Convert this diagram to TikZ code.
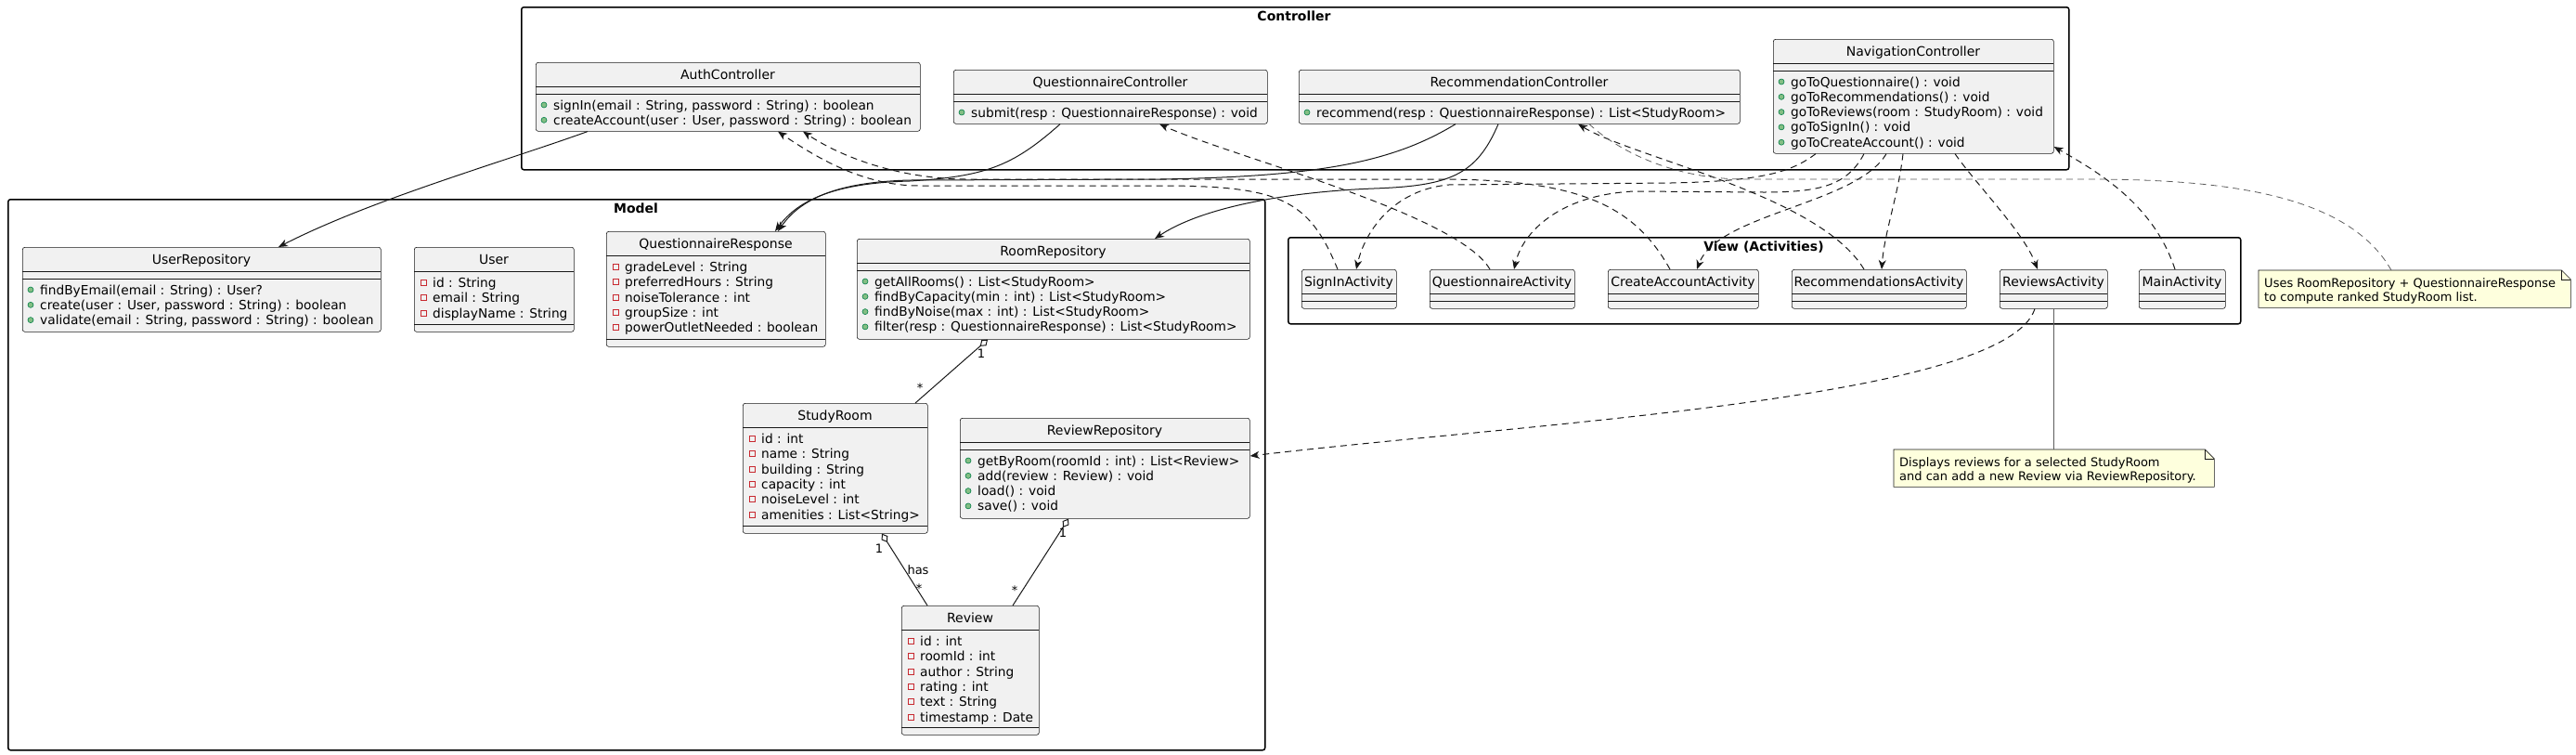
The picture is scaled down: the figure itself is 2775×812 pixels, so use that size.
\documentclass[tikz,border=0pt]{standalone}
\usepackage{fontspec}
\setmainfont{DejaVu Sans}
\usetikzlibrary{arrows.meta}

\definecolor{boxfill}{HTML}{F1F1F1}
\definecolor{boxline}{HTML}{181818}
\definecolor{notefill}{HTML}{FEFFDD}
\definecolor{pubfill}{HTML}{84BE84}
\definecolor{publine}{HTML}{038048}
\definecolor{privline}{HTML}{C82930}

\begin{document}
\begin{tikzpicture}[x=1pt, y=-1pt,
    cls/.style={draw=boxline, fill=boxfill, line width=0.6pt, rounded corners=2.5pt, anchor=north west, inner sep=0pt},
    ttl/.style={anchor=base, inner sep=0pt, font=\fontsize{14}{16}\selectfont},
    mem/.style={anchor=base west, inner sep=0pt, font=\fontsize{13.75}{16}\selectfont},
    sep/.style={draw=boxline, line width=0.6pt},
    pubdot/.style={fill=pubfill, draw=publine, line width=0.6pt},
    privsq/.style={draw=privline, line width=0.8pt},
    pkg/.style={draw=black, line width=1.5pt, rounded corners=2.5pt, anchor=north west, inner sep=0pt},
    pkgname/.style={anchor=base, inner sep=0pt, font=\fontsize{14}{16}\selectfont\bfseries},
    notebox/.style={anchor=north west, inner sep=0pt},
    notefr/.style={draw=boxline, fill=notefill, line width=0.6pt},
    notetxt/.style={anchor=base west, inner sep=0pt, font=\fontsize{13}{15}\selectfont},
    mult/.style={inner sep=0pt, font=\fontsize{13}{15}\selectfont},
    assoc/.style={draw=boxline, line width=1pt, -{Stealth[length=10pt,width=8pt,inset=3pt]}},
    dep/.style={assoc, dash pattern=on 7pt off 5pt},
    aggr/.style={draw=boxline, line width=1pt, -{Diamond[open,length=11pt,width=8pt]}},
    notelink/.style={draw=boxline!70, line width=0.8pt, dash pattern=on 7pt off 5pt}]

    \useasboundingbox (0,0) rectangle (2775,812);

    % Les paquets
    \node[pkg, minimum width=1667pt, minimum height=175pt] (ctrlPkg) at (561,7) {};
    \node[pkgname] (ctrlName) at (1394,22) {Controller};
    \node[pkg, minimum width=1354pt, minimum height=593pt] (modelPkg) at (8,214) {};
    \node[pkgname] (modelName) at (685,229) {Model};
    \node[pkg, minimum width=1026pt, minimum height=93pt] (viewPkg) at (1387,255) {};
    \node[pkgname] (viewName) at (1900,270) {View (Activities)};

    % Les contrôleurs
    \node[cls, minimum width=414pt, minimum height=74pt] (authC) at (577,67) {};
    \node[ttl] (authCT) at (784,85) {AuthController};
    \draw[sep] (577,93) -- (991,93) (577,101) -- (991,101);
    \foreach \m [count=\i from 0] in {{signIn(email : String, password : String) : boolean},
        {createAccount(user : User, password : String) : boolean}}{
      \filldraw[pubdot] (586,113+16.3*\i) circle (3pt);
      \node[mem] (authC-\i) at (596,118+16.3*\i) {\m};}

    \node[cls, minimum width=338pt, minimum height=58pt] (quesC) at (1027,75) {};
    \node[ttl] (quesCT) at (1196,93) {QuestionnaireController};
    \draw[sep] (1027,101) -- (1365,101) (1027,109) -- (1365,109);
    \filldraw[pubdot] (1036,121) circle (3pt);
    \node[mem] (quesC-0) at (1046,126) {submit(resp : QuestionnaireResponse) : void};

    \node[cls, minimum width=475pt, minimum height=58pt] (recC) at (1399,75) {};
    \node[ttl] (recCT) at (1636.5,93) {RecommendationController};
    \draw[sep] (1399,101) -- (1874,101) (1399,109) -- (1874,109);
    \filldraw[pubdot] (1408,121) circle (3pt);
    \node[mem] (recC-0) at (1418,126) {recommend(resp : QuestionnaireResponse) : List<StudyRoom>};

    \node[cls, minimum width=302pt, minimum height=123pt] (navC) at (1910,42) {};
    \node[ttl] (navCT) at (2061,60) {NavigationController};
    \draw[sep] (1910,68) -- (2212,68) (1910,76) -- (2212,76);
    \foreach \m [count=\i from 0] in {{goToQuestionnaire() : void},{goToRecommendations() : void},
        {goToReviews(room : StudyRoom) : void},{goToSignIn() : void},{goToCreateAccount() : void}}{
      \filldraw[pubdot] (1919,88+16.3*\i) circle (3pt);
      \node[mem] (navC-\i) at (1929,93+16.3*\i) {\m};}

    % Le modèle
    \node[cls, minimum width=386pt, minimum height=91pt] (userRepo) at (24,266) {};
    \node[ttl] (userRepoT) at (217,284) {UserRepository};
    \draw[sep] (24,292) -- (410,292) (24,300) -- (410,300);
    \foreach \m [count=\i from 0] in {{findByEmail(email : String) : User?},
        {create(user : User, password : String) : boolean},
        {validate(email : String, password : String) : boolean}}{
      \filldraw[pubdot] (33,312+16.3*\i) circle (3pt);
      \node[mem] (userRepo-\i) at (43,317+16.3*\i) {\m};}

    \node[cls, minimum width=172pt, minimum height=91pt] (user) at (446,266) {};
    \node[ttl] (userT) at (532,284) {User};
    \draw[sep] (446,292) -- (618,292) (446,349) -- (618,349);
    \foreach \m [count=\i from 0] in {{id : String},{email : String},{displayName : String}}{
      \draw[privsq] (453,301.5+16.3*\i) rectangle (459,307.5+16.3*\i);
      \node[mem] (user-\i) at (466,309.5+16.3*\i) {\m};}

    \node[cls, minimum width=236pt, minimum height=124pt] (qResp) at (653,249) {};
    \node[ttl] (qRespT) at (771,267) {QuestionnaireResponse};
    \draw[sep] (653,275) -- (889,275) (653,365) -- (889,365);
    \foreach \m [count=\i from 0] in {{gradeLevel : String},{preferredHours : String},
        {noiseTolerance : int},{groupSize : int},{powerOutletNeeded : boolean}}{
      \draw[privsq] (660,284.5+16.3*\i) rectangle (666,290.5+16.3*\i);
      \node[mem] (qResp-\i) at (673,292.5+16.3*\i) {\m};}

    \node[cls, minimum width=423pt, minimum height=108pt] (roomRepo) at (923,257) {};
    \node[ttl] (roomRepoT) at (1134.5,275) {RoomRepository};
    \draw[sep] (923,283) -- (1346,283) (923,291) -- (1346,291);
    \foreach \m [count=\i from 0] in {{getAllRooms() : List<StudyRoom>},
        {findByCapacity(min : int) : List<StudyRoom>},{findByNoise(max : int) : List<StudyRoom>},
        {filter(resp : QuestionnaireResponse) : List<StudyRoom>}}{
      \filldraw[pubdot] (932,303+16.3*\i) circle (3pt);
      \node[mem] (roomRepo-\i) at (942,308+16.3*\i) {\m};}

    \node[cls, minimum width=199pt, minimum height=140pt] (studyRoom) at (800,434) {};
    \node[ttl] (studyRoomT) at (899.5,452) {StudyRoom};
    \draw[sep] (800,460) -- (999,460) (800,566) -- (999,566);
    \foreach \m [count=\i from 0] in {{id : int},{name : String},{building : String},
        {capacity : int},{noiseLevel : int},{amenities : List<String>}}{
      \draw[privsq] (807,469.5+16.3*\i) rectangle (813,475.5+16.3*\i);
      \node[mem] (studyRoom-\i) at (820,477.5+16.3*\i) {\m};}

    \node[cls, minimum width=312pt, minimum height=108pt] (reviewRepo) at (1034,450) {};
    \node[ttl] (reviewRepoT) at (1190,468) {ReviewRepository};
    \draw[sep] (1034,476) -- (1346,476) (1034,484) -- (1346,484);
    \foreach \m [count=\i from 0] in {{getByRoom(roomId : int) : List<Review>},
        {add(review : Review) : void},{load() : void},{save() : void}}{
      \filldraw[pubdot] (1043,496+16.3*\i) circle (3pt);
      \node[mem] (reviewRepo-\i) at (1053,501+16.3*\i) {\m};}

    \node[cls, minimum width=148pt, minimum height=139pt] (review) at (971,652) {};
    \node[ttl] (reviewT) at (1045,670) {Review};
    \draw[sep] (971,678) -- (1119,678) (971,783) -- (1119,783);
    \foreach \m [count=\i from 0] in {{id : int},{roomId : int},{author : String},
        {rating : int},{text : String},{timestamp : Date}}{
      \draw[privsq] (978,687.5+16.3*\i) rectangle (984,693.5+16.3*\i);
      \node[mem] (review-\i) at (991,695.5+16.3*\i) {\m};}

    % Les activités
    \foreach \nm/\x/\w/\t in {signInA/1402/102/SignInActivity, quesA/1540/156/QuestionnaireActivity,
        createA/1732/162/CreateAccountActivity, recA/1930/188/RecommendationsActivity,
        reviewsA/2154/116/ReviewsActivity, mainA/2304/93/MainActivity}{
      \node[cls, minimum width=\w pt, minimum height=42pt] (\nm) at (\x,290) {};
      \node[ttl] (\nm T) at (\x+\w/2,308) {\t};
      \draw[sep] (\x,316) -- (\x+\w,316) (\x,324) -- (\x+\w,324);}

    % Les notes
    \node[notebox, minimum width=336pt, minimum height=40pt] (note1) at (2433,291) {};
    \filldraw[notefr] (note1.north west) -- ([xshift=-10pt]note1.north east) -- ([yshift=-10pt]note1.north east)
        -- (note1.south east) -- (note1.south west) -- cycle;
    \draw[notefr, fill=none] ([xshift=-10pt]note1.north east) -- ([xshift=-10pt,yshift=-10pt]note1.north east)
        -- ([yshift=-10pt]note1.north east);
    \node[notetxt] (note1a) at (2439,309.5) {Uses RoomRepository + QuestionnaireResponse};
    \node[notetxt] (note1b) at (2439,324) {to compute ranked StudyRoom list.};

    \node[notebox, minimum width=345pt, minimum height=40pt] (note2) at (2040,484) {};
    \filldraw[notefr] (note2.north west) -- ([xshift=-10pt]note2.north east) -- ([yshift=-10pt]note2.north east)
        -- (note2.south east) -- (note2.south west) -- cycle;
    \draw[notefr, fill=none] ([xshift=-10pt]note2.north east) -- ([xshift=-10pt,yshift=-10pt]note2.north east)
        -- ([yshift=-10pt]note2.north east);
    \node[notetxt] (note2a) at (2046,502.5) {Displays reviews for a selected StudyRoom};
    \node[notetxt] (note2b) at (2046,517.5) {and can add a new Review via ReviewRepository.};

    % Les associations
    \draw[assoc] (authC.south -| 633,0) .. controls (540,175) and (400,215) .. (userRepo.north -| 300,0);
    \draw[assoc] (quesC.south -| 1142,0) .. controls (1090,180) and (1060,190) .. (980,195)
        .. controls (900,197) and (860,215) .. (qResp.north -| 835,0);
    \draw[assoc] (recC.south -| 1568,0) .. controls (1500,175) and (1420,190) .. (1250,193) -- (980,194)
        .. controls (900,196) and (862,215) .. (qResp.north -| 838,0);
    \draw[assoc] (recC.south -| 1614,0) .. controls (1590,190) and (1560,200) .. (1480,203)
        .. controls (1400,206) and (1300,220) .. (roomRepo.north -| 1244,0);

    % Les dépendances des activités
    \draw[dep] (signInA.north -| 1441,0) .. controls (1410,215) and (1380,200) .. (1250,200) -- (990,200)
        .. controls (930,200) and (880,170) .. (authC.south -| 838,0);
    \draw[dep] (createA.north -| 1799,0) .. controls (1760,220) and (1700,193) .. (1550,193) -- (1040,193)
        .. controls (960,192) and (900,165) .. (authC.south -| 865,0);
    \draw[dep] (quesA.north -| 1605,0) .. controls (1570,230) and (1330,170) .. (quesC.south -| 1249,0);
    \draw[dep] (recA.north -| 2008,0) .. controls (1960,210) and (1760,170) .. (recC.south -| 1700,0);
    \draw[dep] (mainA.north -| 2343,0) .. controls (2320,220) and (2260,185) .. (navC.east |- 0,158);
    \draw[dep] (reviewsA.south -| 2192,0) .. controls (2160,430) and (1650,455) .. (reviewRepo.east |- 0,491);

    % La navigation
    \draw[dep] (navC.south -| 1956,0) .. controls (1930,185) and (1900,195) .. (1800,197) -- (1560,199)
        .. controls (1500,205) and (1470,250) .. (signInA.north -| 1461,0);
    \draw[dep] (navC.south -| 2008,0) .. controls (1990,200) and (1960,207) .. (1900,207) -- (1760,206)
        .. controls (1680,210) and (1640,250) .. (quesA.north -| 1631,0);
    \draw[dep] (navC.south -| 2032,0) .. controls (2000,220) and (1850,230) .. (createA.north -| 1828,0);
    \draw[dep] (navC.south -| 2050,0) .. controls (2045,210) and (2030,250) .. (recA.north -| 2027,0);
    \draw[dep] (navC.south -| 2106,0) .. controls (2130,200) and (2180,250) .. (reviewsA.north -| 2195,0);

    % Les liens des notes
    \draw[notelink] (note1.north -| 2576,0) .. controls (2530,210) and (2400,193) .. (2250,193) -- (1880,193)
        .. controls (1800,193) and (1740,160) .. (recC.south -| 1712,0);
    \draw[boxline!70, line width=0.6pt] (reviewsA.south -| 2212,0) -- (note2.north -| 2212,0);

    % Les agrégations
    \draw[aggr] (studyRoom.north -| 986,0) -- (roomRepo.south -| 1064,0);
    \node[mult] (rr1) at (1057,381) {1};
    \node[mult] (rrN) at (991,418) {*};
    \draw[aggr] (review.north -| 999,0) -- (studyRoom.south -| 950,0);
    \node[mult] (sr1) at (947,591) {1};
    \node[mult] (srHas) at (989,614) {has};
    \node[mult] (srN) at (990,634) {*};
    \draw[aggr] (review.north -| 1091,0) -- (reviewRepo.south -| 1151,0);
    \node[mult] (rv1) at (1145,574) {1};
    \node[mult] (rvN) at (1093,636) {*};

\end{tikzpicture}
\end{document}
